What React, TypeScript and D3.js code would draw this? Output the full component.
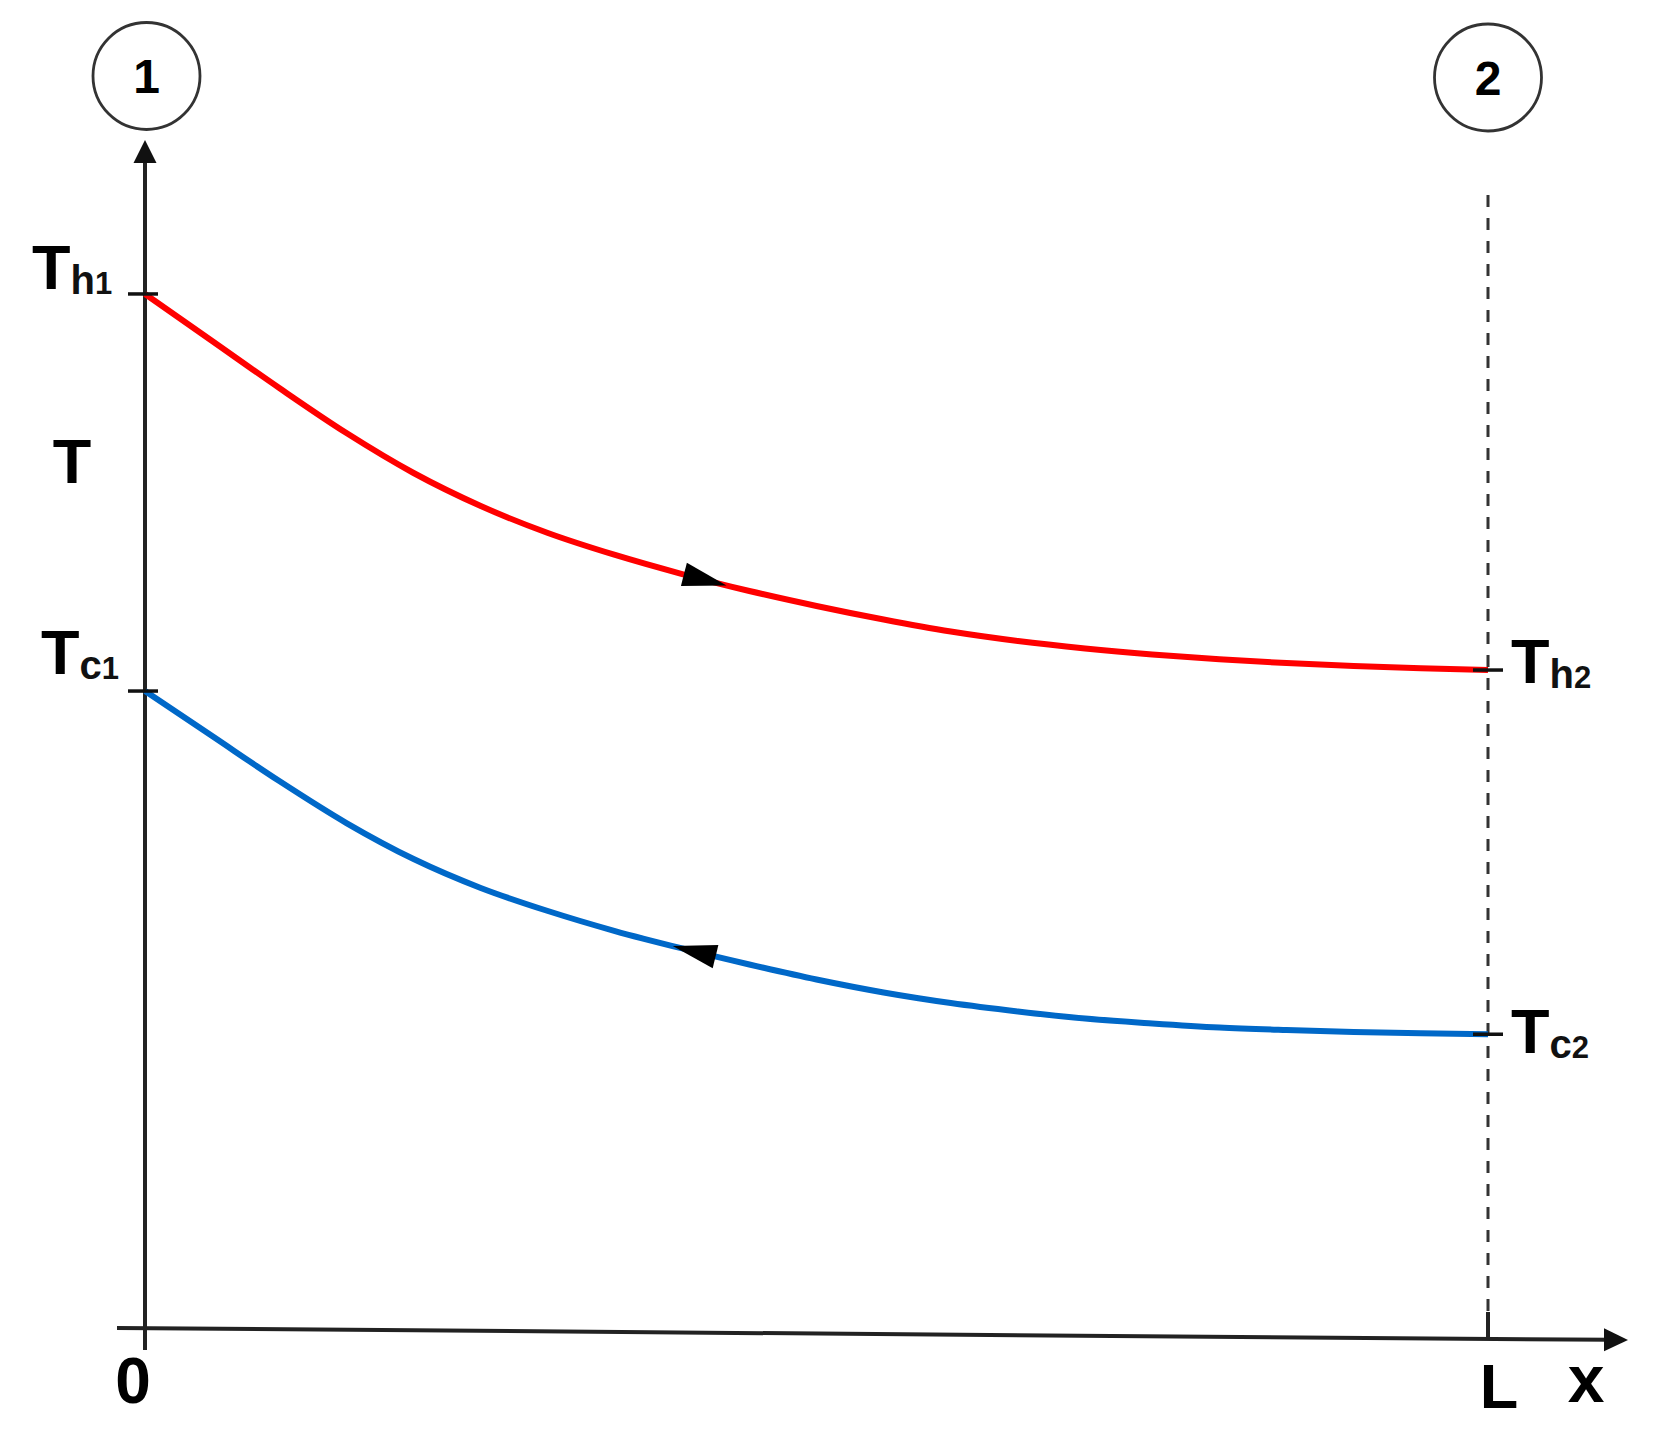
import React, { useEffect, useRef } from "react";
import * as d3 from "d3";

// position along exchanger, % of L
const xPositions = [0, 5, 10, 15, 20, 25, 30, 35, 40, 45, 50, 55, 60, 65, 70, 75, 80, 85, 90, 95, 100];
// hot stream temperature (arbitrary units)
const hotTemps = [86.17, 82.25, 78.33, 74.58, 71.25, 68.5, 66.25, 64.42, 62.83, 61.42, 60.17, 59.04, 58.04, 57.25, 56.63, 56.13, 55.73, 55.41, 55.16, 54.98, 54.83];
// cold stream temperature (arbitrary units)
const coldTemps = [53.08, 49.33, 45.58, 42.08, 39.08, 36.67, 34.75, 33.08, 31.63, 30.29, 29.04, 27.96, 27.08, 26.38, 25.79, 25.38, 25.04, 24.83, 24.67, 24.56, 24.48];

const xTickLabels = ["0", "L"];
const stationLabels = ["1", "2"];
const arrowPositions = [43.3, 39.3]; // hot (forward), cold (backward)

const W = 1657;
const H = 1436;
const FONT = "'Liberation Sans', Arial, Helvetica, sans-serif";

export default function App() {
  const ref = useRef<SVGSVGElement | null>(null);

  useEffect(() => {
    const svg = d3.select(ref.current);
    svg.selectAll("*").remove();

    const x = d3.scaleLinear().domain([0, 100]).range([145, 1488]);
    const y = d3.scaleLinear().domain([0, 100]).range([1328, 128]);

    const axisColor = "#222";
    const x0 = x(0);
    const xL = x(100);
    const yAxisBase = y(0);

    // x-axis (slightly tilted as in reference)
    const axStart: [number, number] = [117, yAxisBase];
    const axEnd: [number, number] = [1628, yAxisBase + 12];
    const axY = (px: number) => axStart[1] + ((px - axStart[0]) / (axEnd[0] - axStart[0])) * (axEnd[1] - axStart[1]);

    svg.append("line")
      .attr("x1", axStart[0]).attr("y1", axStart[1])
      .attr("x2", axEnd[0] - 18).attr("y2", axY(axEnd[0] - 18))
      .attr("stroke", axisColor).attr("stroke-width", 4);
    svg.append("path")
      .attr("d", `M${axEnd[0]},${axEnd[1]} L${axEnd[0] - 24},${axY(axEnd[0] - 24) - 11.5} L${axEnd[0] - 24},${axY(axEnd[0] - 24) + 11.5} Z`)
      .attr("fill", "#111");

    // y-axis
    svg.append("line")
      .attr("x1", x0).attr("y1", 1350)
      .attr("x2", x0).attr("y2", 158)
      .attr("stroke", axisColor).attr("stroke-width", 4);
    svg.append("path")
      .attr("d", `M${x0},140 L${x0 - 11.5},163 L${x0 + 11.5},163 Z`)
      .attr("fill", "#111");

    // dashed line at L
    svg.append("line")
      .attr("x1", xL).attr("y1", 195)
      .attr("x2", xL).attr("y2", 1312)
      .attr("stroke", "#333").attr("stroke-width", 3)
      .attr("stroke-dasharray", "12 11");
    svg.append("line")
      .attr("x1", xL).attr("y1", 1312)
      .attr("x2", xL).attr("y2", axY(xL))
      .attr("stroke", axisColor).attr("stroke-width", 4);

    // curves
    const line = d3.line<number>()
      .x((_, i) => x(xPositions[i]))
      .y((d) => y(d))
      .curve(d3.curveMonotoneX);

    const hotPath = svg.append("path")
      .attr("d", line(hotTemps) as string)
      .attr("fill", "none").attr("stroke", "#ff0000").attr("stroke-width", 6);
    const coldPath = svg.append("path")
      .attr("d", line(coldTemps) as string)
      .attr("fill", "none").attr("stroke", "#0068c8").attr("stroke-width", 6);

    // flow arrows on curves
    const drawArrow = (pathSel: any, pos: number, forward: boolean) => {
      const node = pathSel.node() as SVGPathElement;
      const total = node.getTotalLength();
      const target = x(pos);
      let lo = 0, hi = total;
      for (let k = 0; k < 40; k++) {
        const mid = (lo + hi) / 2;
        if (node.getPointAtLength(mid).x < target) lo = mid; else hi = mid;
      }
      const tipLen = (lo + hi) / 2;
      const tip = node.getPointAtLength(tipLen);
      const base = node.getPointAtLength(forward ? tipLen - 44 : tipLen + 44);
      const dx = tip.x - base.x, dy = tip.y - base.y;
      const len = Math.hypot(dx, dy);
      const nx = -dy / len, ny = dx / len;
      const hw = 12;
      svg.append("path")
        .attr("d", `M${tip.x},${tip.y} L${base.x + nx * hw},${base.y + ny * hw} L${base.x - nx * hw},${base.y - ny * hw} Z`)
        .attr("fill", "#000");
    };
    drawArrow(hotPath, arrowPositions[0], true);
    drawArrow(coldPath, arrowPositions[1], false);

    // ticks on axis and at L
    const tick = (cx: number, cy: number) => {
      svg.append("line")
        .attr("x1", cx - 16).attr("y1", cy).attr("x2", cx + 14).attr("y2", cy)
        .attr("stroke", "#111").attr("stroke-width", 3.5);
    };
    const th1 = y(hotTemps[0]);
    const tc1 = y(coldTemps[0]);
    const th2 = y(hotTemps[hotTemps.length - 1]);
    const tc2 = y(coldTemps[coldTemps.length - 1]);
    tick(x0 - 1, th1);
    tick(x0 - 1, tc1);
    tick(xL + 1, th2);
    tick(xL + 1, tc2);

    // subscripted labels
    const label = (lx: number, ly: number, main: string, sub: string, num: string) => {
      const t = svg.append("text")
        .attr("x", lx).attr("y", ly)
        .attr("font-family", FONT).attr("font-weight", "bold").attr("fill", "#000");
      t.append("tspan").attr("font-size", 63).text(main);
      t.append("tspan").attr("font-size", 40).attr("dy", 5).attr("fill", "#111").text(sub);
      t.append("tspan").attr("font-size", 31).attr("fill", "#111").text(num);
    };
    label(32, th1 - 5, "T", "h", "1");
    label(41, tc1 - 17, "T", "c", "1");
    label(1511, th2 + 13, "T", "h", "2");
    label(1511, tc2 + 19, "T", "c", "2");

    // axis title T
    svg.append("text")
      .attr("x", 72).attr("y", 483)
      .attr("text-anchor", "middle")
      .attr("font-family", FONT).attr("font-weight", "bold").attr("font-size", 63)
      .text("T");

    // x tick labels
    svg.append("text")
      .attr("x", x0 - 12).attr("y", 1403)
      .attr("text-anchor", "middle")
      .attr("font-family", FONT).attr("font-weight", "bold").attr("font-size", 64)
      .text(xTickLabels[0]);
    svg.append("text")
      .attr("x", xL + 11).attr("y", 1408)
      .attr("text-anchor", "middle")
      .attr("font-family", FONT).attr("font-weight", "bold").attr("font-size", 63)
      .text(xTickLabels[1]);
    svg.append("text")
      .attr("x", 1586).attr("y", 1402)
      .attr("text-anchor", "middle")
      .attr("font-family", FONT).attr("font-weight", "bold").attr("font-size", 66)
      .text("x");

    // station circles
    const circles: [number, number][] = [[146.5, 76], [1488, 77.5]];
    circles.forEach(([cx, cy], i) => {
      svg.append("circle")
        .attr("cx", cx).attr("cy", cy).attr("r", 53.5)
        .attr("fill", "none").attr("stroke", "#333").attr("stroke-width", 2.8);
      svg.append("text")
        .attr("x", cx).attr("y", cy + 17)
        .attr("text-anchor", "middle")
        .attr("font-family", FONT).attr("font-weight", "bold").attr("font-size", 48)
        .text(stationLabels[i]);
    });
  }, []);

  return (
    <svg
      ref={ref}
      width={W}
      height={H}
      viewBox={`0 0 ${W} ${H}`}
      style={{ position: "absolute", left: 0, top: 0, background: "#fff" }}
    />
  );
}
